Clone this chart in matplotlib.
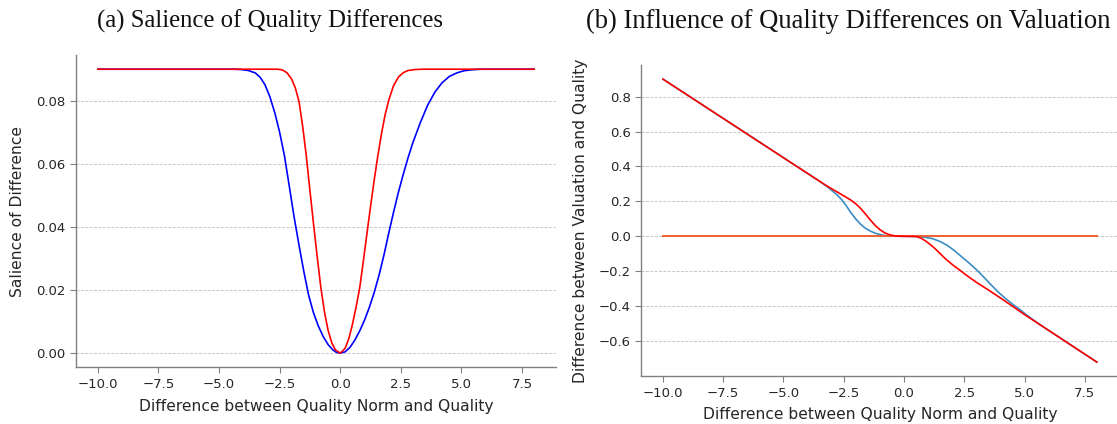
import matplotlib
matplotlib.use("Agg")
import matplotlib.pyplot as plt

# ---------------- data ----------------
# (a) Salience of quality differences
sal_blue_x = [-10, -4.4, -4.1, -3.8, -3.5, -3.3, -3.1, -2.9, -2.7, -2.5, -2.3, -2.1, -1.9,
              -1.7, -1.5, -1.3, -1.1, -0.9, -0.7, -0.5, -0.3, -0.15, 0.0, 0.2, 0.4, 0.6, 0.8,
              1.0, 1.2, 1.4, 1.6, 1.8, 2.0, 2.2, 2.4, 2.6, 2.8, 3.0, 3.3, 3.6, 3.9, 4.2, 4.5,
              4.8, 5.1, 5.4, 5.8, 8.0]
sal_blue_y = [0.09, 0.09, 0.0899, 0.0896, 0.0888, 0.0874, 0.0850, 0.0812, 0.0762, 0.0700,
              0.0625, 0.0528, 0.0430, 0.0342, 0.0258, 0.0182, 0.0127, 0.0085, 0.0052, 0.0027,
              0.0010, 0.0002, 0.0, 0.0004, 0.0018, 0.0041, 0.0070, 0.0104, 0.0145, 0.0192,
              0.0247, 0.0310, 0.0380, 0.0447, 0.0510, 0.0567, 0.0620, 0.0668, 0.0730, 0.0785,
              0.0827, 0.0857, 0.0877, 0.0888, 0.0895, 0.0898, 0.09, 0.09]

sal_red_x = [-10, -2.6, -2.4, -2.2, -2.0, -1.85, -1.7, -1.55, -1.4, -1.25, -1.1, -0.95, -0.8,
             -0.65, -0.5, -0.35, -0.2, 0.0, 0.2, 0.35, 0.5, 0.65, 0.8, 0.95, 1.1, 1.25, 1.4,
             1.55, 1.7, 1.85, 2.0, 2.2, 2.4, 2.6, 2.8, 3.1, 3.4, 8.0]
sal_red_y = [0.09, 0.09, 0.0898, 0.0889, 0.0868, 0.0840, 0.0797, 0.0719, 0.0625, 0.0515,
             0.0408, 0.0305, 0.0208, 0.0130, 0.0072, 0.0033, 0.0010, 0.0, 0.0015, 0.0045,
             0.0090, 0.0145, 0.0205, 0.0290, 0.0378, 0.0465, 0.0548, 0.0625, 0.0695, 0.0755,
             0.0802, 0.0848, 0.0875, 0.0889, 0.0896, 0.0899, 0.09, 0.09]

# (b) Influence of quality differences on valuation
zero_x = [-10, 8]
zero_y = [0.0, 0.0]

val_blue_x = [-10, -3.5, -3.2, -3.0, -2.8, -2.6, -2.4, -2.2, -2.0, -1.8, -1.6, -1.4, -1.2,
              -1.0, -0.8, -0.6, -0.3, 0.0, 0.3, 0.6, 0.9, 1.2, 1.5, 1.8, 2.1, 2.4, 2.7, 3.0,
              3.3, 3.6, 3.9, 4.2, 4.5, 4.8, 5.1, 5.4, 5.7, 8.0]
val_blue_y = [0.9, 0.315, 0.286, 0.263, 0.240, 0.212, 0.176, 0.135, 0.099, 0.069, 0.046,
              0.030, 0.018, 0.010, 0.005, 0.002, 0.0003, 0.0, -0.0003, -0.002, -0.006,
              -0.014, -0.030, -0.052, -0.083, -0.118, -0.153, -0.190, -0.232, -0.276, -0.318,
              -0.355, -0.388, -0.419, -0.452, -0.482, -0.511, -0.72]

val_red_x = [-10, -3.5, -3.3, -2.9, -2.5, -2.2, -2.0, -1.8, -1.6, -1.4, -1.2, -1.0, -0.8,
             -0.6, -0.4, -0.2, 0.0, 0.5, 0.7, 0.9, 1.1, 1.3, 1.5, 1.7, 1.9, 2.1, 2.3, 2.6,
             3.0, 3.5, 4.0, 4.5, 5.0, 8.0]
val_red_y = [0.9, 0.315, 0.297, 0.264, 0.232, 0.207, 0.186, 0.160, 0.128, 0.094, 0.063,
             0.038, 0.020, 0.009, 0.003, 0.0005, 0.0, -0.001, -0.010, -0.027, -0.048,
             -0.072, -0.099, -0.126, -0.150, -0.172, -0.192, -0.224, -0.263, -0.307, -0.353,
             -0.400, -0.448, -0.72]

# ---------------- figure ----------------
W, H = 1117, 424
fig = plt.figure(figsize=(W / 100, H / 100), dpi=100)


def px_axes(left, right, top, bottom):
    return fig.add_axes([left / W, (H - bottom) / H, (right - left) / W, (bottom - top) / H])


def style(ax):
    for s in ("top", "right"):
        ax.spines[s].set_visible(False)
    for s in ("left", "bottom"):
        ax.spines[s].set_color("#808080")
        ax.spines[s].set_linewidth(1.0)
    ax.tick_params(colors="#808080", labelcolor="#262626", labelsize=9.5, length=4, width=0.8)
    ax.yaxis.grid(True, color="#c8c8c8", linestyle=(0, (3, 1.5)), linewidth=0.7)
    ax.set_axisbelow(True)


LBL = 11.2

ax1 = px_axes(76, 556, 55, 367.3)
ax1.plot(sal_blue_x, sal_blue_y, color="blue", lw=1.2)
ax1.plot(sal_red_x, sal_red_y, color="red", lw=1.2)
ax1.set_xlim(-10.9, 8.9)
ax1.set_ylim(-0.0045, 0.0945)
ax1.set_xticks([-10, -7.5, -5, -2.5, 0, 2.5, 5, 7.5])
ax1.set_yticks([0.0, 0.02, 0.04, 0.06, 0.08])
ax1.set_yticklabels(["0.00", "0.02", "0.04", "0.06", "0.08"])
ax1.set_xlabel("Difference between Quality Norm and Quality", fontsize=LBL, color="#262626",
               labelpad=6)
ax1.set_ylabel("Salience of Difference", fontsize=LBL, color="#262626", labelpad=8)
style(ax1)

ax2 = px_axes(641.3, 1118.5, 65, 376.2)
ax2.plot(val_blue_x, val_blue_y, color="#3a8cc4", lw=1.2)
ax2.plot(zero_x, zero_y, color="#ee6030", lw=1.4)
ax2.plot(val_red_x, val_red_y, color="red", lw=1.2)
ax2.set_xlim(-10.9, 8.9)
ax2.set_ylim(-0.801, 0.981)
ax2.set_xticks([-10, -7.5, -5, -2.5, 0, 2.5, 5, 7.5])
ax2.set_yticks([-0.6, -0.4, -0.2, 0.0, 0.2, 0.4, 0.6, 0.8])
ax2.set_xlabel("Difference between Quality Norm and Quality", fontsize=LBL, color="#262626",
               labelpad=5)
ax2.set_ylabel("Difference between Valuation and Quality", fontsize=LBL, color="#262626",
               labelpad=8)
style(ax2)

fig.text(270 / W, 1 - 21 / H, "(a) Salience of Quality Differences", family="Liberation Serif",
         fontsize=17.8, ha="center", va="center", color="#111111")
fig.text(848 / W, 1 - 21 / H, "(b) Influence of Quality Differences on Valuation",
         family="Liberation Serif", fontsize=19.2, ha="center", va="center", color="#111111")

fig.savefig("out.png", dpi=100)
